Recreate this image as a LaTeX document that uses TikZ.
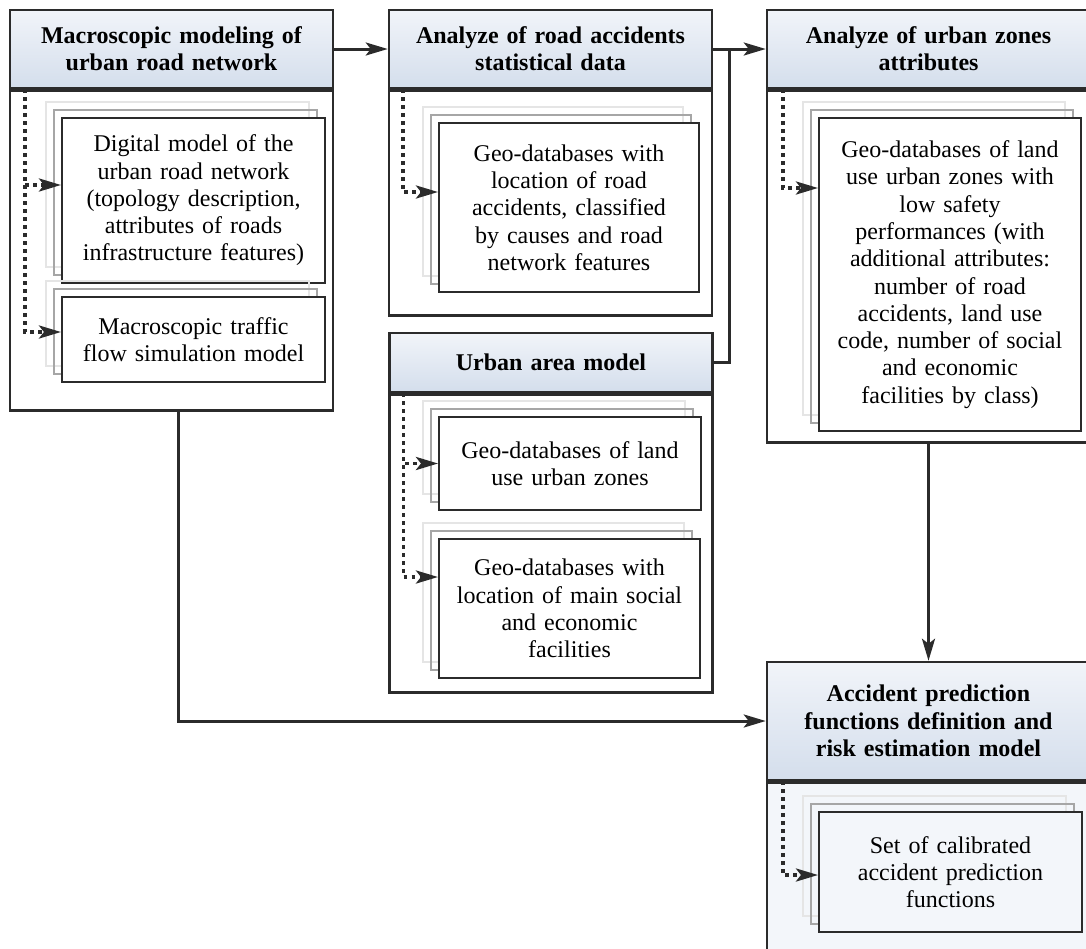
\documentclass[tikz,border=0pt]{standalone}
\usepackage{fontspec}
\setmainfont{Liberation Serif}
\usepackage{xcolor}
\usepackage{tikz}
\usetikzlibrary{arrows.meta, shadows}

\definecolor{hdrTop}{HTML}{F1F4F9}
\definecolor{hdrBot}{HTML}{D4DEEC}
\definecolor{paleBlue}{HTML}{F3F6FA}
\definecolor{lineDark}{HTML}{2B2B2B}

\begin{document}
\begin{tikzpicture}[x=1pt, y=-1pt, >={Stealth[length=22pt, width=13pt, inset=5pt]}, font=\fontsize{24pt}{27.3pt}\selectfont]
        \tikzstyle{hdrBox} = [rectangle, draw=lineDark, line width=2.5pt, top color=hdrTop, bottom color=hdrBot, text centered, text width=310pt, minimum width=323pt, inner sep=0pt]
        \tikzstyle{bodyBox} = [rectangle, draw=lineDark, line width=2.5pt, fill=white, minimum width=323pt, anchor=north, inner sep=0pt]
        \tikzstyle{itemBox} = [rectangle, draw=lineDark, line width=2pt, fill=white, text centered, text width=250pt, inner sep=0pt,
            copy shadow={shadow xshift=-16pt, shadow yshift=16pt, draw=black!10, fill=none, line width=1.5pt},
            copy shadow={shadow xshift=-8pt, shadow yshift=8pt, draw=black!35, fill=none, line width=2pt}]
        \tikzstyle{flow} = [->, draw=lineDark, line width=3pt]
        \tikzstyle{dotFlow} = [->, draw=lineDark, line width=3.5pt, dash pattern=on 3.5pt off 4.5pt]

        \useasboundingbox (0, 0) rectangle (1086, 948);

        \node[hdrBox, minimum height=78pt] (hdrA) at (171.5, 49) {\textbf{Macroscopic modeling of\\urban road network}};
        \node[bodyBox, minimum height=320pt] (bodyA) at (hdrA.south) {};
        \node[hdrBox, minimum height=78pt] (hdrB) at (550.5, 49) {\textbf{Analyze of road accidents\\statistical data}};
        \node[bodyBox, minimum height=225pt] (bodyB) at (hdrB.south) {};
        \node[hdrBox, minimum height=59pt] (hdrC) at (551, 362.5) {\textbf{Urban area model}};
        \node[bodyBox, minimum height=298pt] (bodyC) at (hdrC.south) {};
        \node[hdrBox, minimum height=78pt] (hdrD) at (928.5, 49) {\textbf{Analyze of urban zones\\attributes}};
        \node[bodyBox, minimum height=352pt] (bodyD) at (hdrD.south) {};
        \node[hdrBox, minimum height=118pt] (hdrE) at (928.5, 721) {\textbf{Accident prediction\\functions definition and\\risk estimation model}};
        \node[bodyBox, fill=paleBlue, minimum height=220pt] (bodyE) at (hdrE.south) {};

        \node[itemBox, minimum width=263pt, minimum height=165pt] (itA1) at (193.5, 200.5) {Digital model of the\\urban road network\\(topology description,\\attributes of roads\\infrastructure features)};
        \node[itemBox, minimum width=263pt, minimum height=85pt] (itA2) at (193.5, 339.5) {Macroscopic traffic\\flow simulation model};
        \node[itemBox, minimum width=260pt, minimum height=169pt] (itB1) at (569, 207.5) {Geo-databases with\\location of road\\accidents, classified\\by causes and road\\network features};
        \node[itemBox, minimum width=262pt, minimum height=93pt] (itC1) at (570, 463.5) {Geo-databases of land\\use urban zones};
        \node[itemBox, minimum width=261pt, minimum height=139pt] (itC2) at (569.5, 608.5) {Geo-databases with\\location of main social\\and economic\\facilities};
        \node[itemBox, minimum width=262pt, minimum height=313pt] (itD1) at (950, 274.5) {Geo-databases of land\\use urban zones with\\low safety\\performances (with\\additional attributes:\\number of road\\accidents, land use\\code, number of social\\and economic\\facilities by class)};
        \node[itemBox, fill=paleBlue, minimum width=263pt, minimum height=120pt] (itE1) at (950.5, 872) {Set of calibrated\\accident prediction\\functions};

        \draw[dotFlow] ([xshift=16pt]hdrA.south west) |- ([yshift=15.5pt]itA1.west);
        \draw[dotFlow] ([xshift=16pt]hdrA.south west) |- ([yshift=7.5pt]itA2.west);
        \draw[dotFlow] ([xshift=15pt]hdrB.south west) |- ([yshift=15.5pt]itB1.west);
        \draw[dotFlow] ([xshift=15pt]hdrC.south west) |- (itC1.west);
        \draw[dotFlow] ([xshift=15pt]hdrC.south west) |- ([yshift=31.5pt]itC2.west);
        \draw[dotFlow] ([xshift=17pt]hdrD.south west) |- ([yshift=86.5pt]itD1.west);
        \draw[dotFlow] ([xshift=17pt]hdrE.south west) |- ([yshift=-3pt]itE1.west);

        \draw[flow] (hdrA.east) -- (hdrB.west);
        \draw[flow] (hdrB.east) -- (hdrD.west);
        \draw[flow, -] (hdrC.east) -| ([xshift=16pt]hdrB.east);
        \draw[flow] ([xshift=6.5pt]bodyA.south) |- (hdrE.west);
        \draw[flow] (bodyD.south) -- (hdrE.north);
\end{tikzpicture}
\end{document}
